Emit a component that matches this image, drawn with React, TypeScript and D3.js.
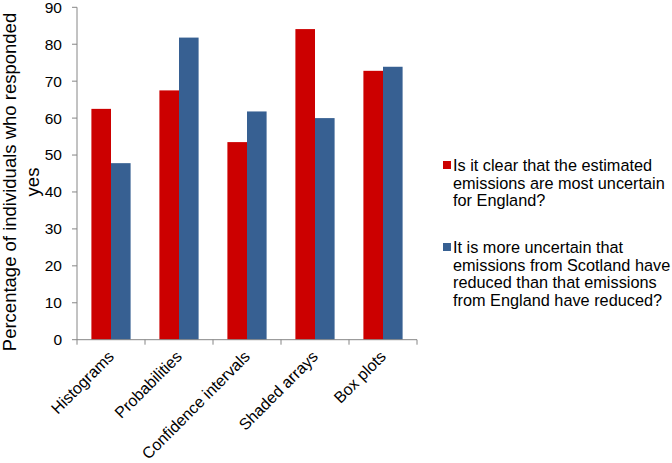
import React from "react";
import * as d3 from "d3";

const categories = ["Histograms", "Probabilities", "Confidence intervals", "Shaded arrays", "Box plots"];
const seriesNames = [
  ["Is it clear that the estimated", "emissions are most uncertain", "for England?"],
  ["It is more uncertain that", "emissions from Scotland have", "reduced than that emissions", "from England have reduced?"],
];
const clearValues = [62.5, 67.5, 53.5, 84.1, 72.8];
const uncertainValues = [47.8, 81.8, 61.8, 60, 73.9];
const yTicks = [0, 10, 20, 30, 40, 50, 60, 70, 80, 90];
const colors = ["#cc0000", "#376092"];

export default function App() {
  const left = 77, right = 417, top = 7.3, bottom = 339.7;
  const x = d3.scaleBand<string>().domain(categories).range([left, right]).paddingInner(0).paddingOuter(0);
  const y = d3.scaleLinear().domain([0, 90]).range([bottom, top]);
  const bw = 19.6;
  const series = [clearValues, uncertainValues];
  const font = "Liberation Sans, Arial, sans-serif";
  const axisColor = "#868686";
  return (
    <svg width={672} height={463} style={{ position: "absolute", left: 0, top: 0 }} fontFamily={font}>
      <rect width={672} height={463} fill="#fff" />
      {series.map((vals, si) =>
        vals.map((v, i) => {
          const cx = (x(categories[i]) as number) + x.bandwidth() / 2;
          const x0 = cx - bw + si * bw;
          return (
            <rect key={`${si}-${i}`} x={x0} y={y(v)} width={bw} height={y(0) - y(v)} fill={colors[si]} />
          );
        })
      )}
      {/* y axis */}
      <line x1={left} x2={left} y1={top} y2={bottom} stroke={axisColor} strokeWidth={1} />
      {yTicks.map((t) => (
        <g key={t}>
          <line x1={left - 5} x2={left} y1={y(t)} y2={y(t)} stroke={axisColor} />
          <text x={62} y={y(t)} dy="0.35em" textAnchor="end" fontSize={15.5} fill="#000">{t}</text>
        </g>
      ))}
      {/* x axis */}
      <line x1={left} x2={right} y1={bottom} y2={bottom} stroke={axisColor} />
      {d3.range(categories.length + 1).map((i) => {
        const xx = left + i * x.bandwidth();
        return <line key={i} x1={xx} x2={xx} y1={bottom} y2={bottom + 5} stroke={axisColor} />;
      })}
      {categories.map((c) => {
        const cx = (x(c) as number) + x.bandwidth() / 2;
        return (
          <text key={c} transform={`translate(${cx + 4},${bottom + 18}) rotate(-45)`} textAnchor="end" fontSize={16} fill="#000">{c}</text>
        );
      })}
      {/* y title */}
      <text transform={`translate(16,182) rotate(-90)`} textAnchor="middle" fontSize={18.5} fill="#000">
        <tspan x={0} dy={0}>Percentage of individuals who responded</tspan>
        <tspan x={0} dy={23}>yes</tspan>
      </text>
      {/* legend */}
      {seriesNames.map((lines, si) => {
        const y0 = si === 0 ? 171 : 253;
        return (
          <g key={si}>
            <rect x={443} y={y0 - 10} width={8} height={8} fill={colors[si]} />
            {lines.map((l, li) => (
              <text key={li} x={453} y={y0 + li * 17.6} fontSize={16.3} fill="#000">{l}</text>
            ))}
          </g>
        );
      })}
    </svg>
  );
}
